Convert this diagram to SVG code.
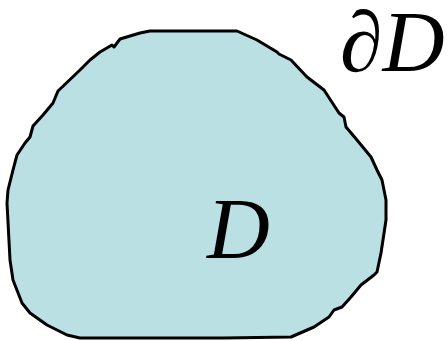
<svg xmlns="http://www.w3.org/2000/svg" width="448" height="341" viewBox="0 0 448 341">
<style>
.region{fill:#bbe0e3;stroke:#000;stroke-width:3;stroke-linejoin:round}
.lbl{font-family:"Liberation Serif",serif;font-style:italic;fill:#000}
</style>
<g id="region-D">
<path class="region" d="M150,31 L224,31 L237,31 L257,40 L277,52 L279,54 L291,60 L307,77 L324,90 L339,113 L344,117 L346,127 L357,140 L371,157 L377,170 L382,180 L386,200 L386,220 L381,253 L377,272 L374,275 L361,285 L351,297 L342,307 L334,310 L329,317 L314,327 L291,337 L224,338 L80,338 L67,335 L47,325 L30,313 L22,303 L13,280 L10,260 L7,203 L8,190 L13,170 L17,155 L25,143 L30,137 L33,126 L43,115 L53,103 L58,91 L80,70 L90,60 L100,52 L112,45 L114,47 L120,39 L140,33 Z"/>
<text class="lbl" x="207" y="258" font-size="87">D</text>
</g>
<g id="boundary-label">
<text class="lbl" x="340" y="71" font-size="86">∂D</text>
</g>
<g id="connectors"/>
</svg>
